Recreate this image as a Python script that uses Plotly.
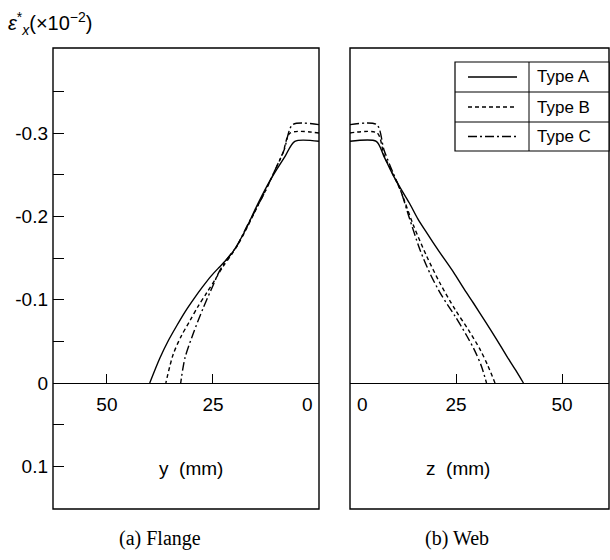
import plotly.graph_objects as go

# ---------------- data ----------------
flange_y_A = [0, 5.7, 8, 10, 12.3, 14.7, 17.1, 19, 20.5, 22, 23.5, 25.5, 27.5, 29.5, 31.5, 33.5, 35.5, 37.5, 39.9]
flange_v_A = [-0.29, -0.29, -0.272, -0.256, -0.236, -0.212, -0.186, -0.168, -0.156, -0.147, -0.139, -0.128, -0.115, -0.101, -0.086, -0.069, -0.051, -0.030, 0.0]
flange_y_B = [0, 6.8, 8.5, 10.5, 12.5, 14.7, 17, 19, 20.5, 22.6, 24.5, 26.5, 28.5, 30.4, 32.5, 34.4, 36.1]
flange_v_B = [-0.30, -0.30, -0.276, -0.254, -0.232, -0.21, -0.186, -0.167, -0.155, -0.140, -0.124, -0.108, -0.092, -0.075, -0.056, -0.034, 0.0]
flange_y_C = [0, 6.2, 8.2, 10.5, 12.5, 14.7, 17, 19.4, 21.8, 23.5, 24.9, 27.3, 29.6, 31.6, 32.6]
flange_v_C = [-0.31, -0.31, -0.28, -0.254, -0.232, -0.21, -0.188, -0.164, -0.148, -0.134, -0.118, -0.090, -0.06, -0.030, 0.0]

web_z_A = [0, 6.2, 8, 10, 12, 14, 16, 18, 21, 24.4, 27, 29.1, 32, 34.6, 37, 39, 40.9]
web_v_A = [-0.29, -0.29, -0.272, -0.251, -0.233, -0.216, -0.197, -0.181, -0.158, -0.133, -0.112, -0.096, -0.073, -0.052, -0.032, -0.016, 0.0]
web_z_B = [0, 6.4, 8, 10, 12, 14.9, 18.1, 21.2, 24.8, 27.9, 30.7, 32.5, 34.2]
web_v_B = [-0.30, -0.30, -0.274, -0.252, -0.23, -0.19, -0.152, -0.12, -0.088, -0.064, -0.04, -0.021, 0.0]
web_z_C = [0, 6.3, 8, 10, 12, 14, 16.5, 19, 21.5, 24.8, 27.5, 29.5, 31, 32.2]
web_v_C = [-0.31, -0.31, -0.28, -0.254, -0.23, -0.198, -0.160, -0.130, -0.106, -0.080, -0.057, -0.038, -0.020, 0.0]

series_names = ["Type A", "Type B", "Type C"]
y_tickvals = [-0.35, -0.3, -0.25, -0.2, -0.15, -0.1, -0.05, 0, 0.05, 0.1]
y_ticktext = ["", "-0.3", "", "-0.2", "", "-0.1", "", "0", "", "0.1"]
x_tickvals = [25, 50]
x_ticktext = ["25", "50"]

# ---------------- layout helpers ----------------
W, H = 610, 560
def px(x):
    return x / W
def py(y):
    return (H - y) / H

dashes = ["solid", "4px,3px", "9px,3px,2px,3px"]
LW = 1.4
FONT = "Liberation Sans, Arial, Helvetica, sans-serif"
SERIF = "Liberation Serif, Times New Roman, serif"

fig = go.Figure()
fl = [(flange_y_A, flange_v_A), (flange_y_B, flange_v_B), (flange_y_C, flange_v_C)]
wb = [(web_z_A, web_v_A), (web_z_B, web_v_B), (web_z_C, web_v_C)]
for i, (xs, vs) in enumerate(fl):
    fig.add_trace(go.Scatter(x=xs, y=vs, mode="lines", name=series_names[i],
                             line=dict(color="black", width=LW, dash=dashes[i],
                                       shape="spline", smoothing=0.8),
                             xaxis="x", yaxis="y", showlegend=False))
for i, (xs, vs) in enumerate(wb):
    fig.add_trace(go.Scatter(x=xs, y=vs, mode="lines", name=series_names[i],
                             line=dict(color="black", width=LW, dash=dashes[i],
                                       shape="spline", smoothing=0.8),
                             xaxis="x2", yaxis="y2", showlegend=False))

L1, R1, L2, R2 = 53, 319, 350, 609
TOP, BOT = 48, 509
Y0 = 383
yrange = [0.1512, -0.402]

xaxis_common = dict(showgrid=False, zeroline=False, showline=True, linecolor="black",
                    linewidth=LW, ticks="inside", ticklen=9, tickwidth=LW, tickcolor="black",
                    tickvals=x_tickvals, ticktext=x_ticktext, anchor="free", position=py(Y0),
                    tickfont=dict(family=FONT, size=19, color="black"), ticklabelstandoff=4)

fig.update_layout(
    width=W, height=H, margin=dict(l=0, r=0, t=0, b=0),
    paper_bgcolor="white", plot_bgcolor="white", showlegend=False,
    xaxis=dict(domain=[px(L1), px(R1)], range=[62.7, 0], **xaxis_common),
    xaxis2=dict(domain=[px(L2), px(R2)], range=[0, (R2 - L2) / 4.24], **xaxis_common),
    yaxis=dict(domain=[py(BOT), py(TOP)], range=yrange, showgrid=False, zeroline=False,
               showline=False, ticks="inside", ticklen=11, tickwidth=LW, tickcolor="black",
               tickvals=y_tickvals, ticktext=y_ticktext, anchor="x",
               tickfont=dict(family=FONT, size=19, color="black"), ticklabelstandoff=4),
    yaxis2=dict(domain=[py(BOT), py(TOP)], range=yrange, visible=False, anchor="x2"),
)

shapes = []
# panel frames
for (l, r) in [(L1, R1), (L2, R2)]:
    shapes.append(dict(type="rect", xref="paper", yref="paper", x0=px(l), x1=px(r),
                       y0=py(BOT), y1=py(TOP), line=dict(color="black", width=LW),
                       fillcolor="rgba(0,0,0,0)", layer="above"))
# legend table
LG_L, LG_R, LG_T, LG_B, LG_DIV = 455, 609, 62, 151, 529
rows = [62, 92, 122, 151]
shapes.append(dict(type="rect", xref="paper", yref="paper", x0=px(LG_L), x1=px(LG_R),
                   y0=py(LG_B), y1=py(LG_T), line=dict(color="black", width=1.2),
                   fillcolor="white", layer="above"))
for ry in rows[1:3]:
    shapes.append(dict(type="line", xref="paper", yref="paper", x0=px(LG_L), x1=px(LG_R),
                       y0=py(ry), y1=py(ry), line=dict(color="black", width=1.0), layer="above"))
shapes.append(dict(type="line", xref="paper", yref="paper", x0=px(LG_DIV), x1=px(LG_DIV),
                   y0=py(LG_B), y1=py(LG_T), line=dict(color="black", width=1.0), layer="above"))
annotations = []
for i in range(3):
    cy = (rows[i] + rows[i + 1]) / 2
    shapes.append(dict(type="line", xref="paper", yref="paper", x0=px(468), x1=px(517),
                       y0=py(cy), y1=py(cy), line=dict(color="black", width=LW, dash=dashes[i]),
                       layer="above"))
    annotations.append(dict(text=series_names[i], xref="paper", yref="paper", x=px(535), y=py(cy),
                            xanchor="left", yanchor="middle", showarrow=False,
                            font=dict(family=FONT, size=17, color="black")))

# zero labels on x axes
annotations.append(dict(text="0", xref="paper", yref="paper", x=px(315), y=py(392),
                        xanchor="right", yanchor="top", showarrow=False,
                        font=dict(family=FONT, size=19, color="black")))
annotations.append(dict(text="0", xref="paper", yref="paper", x=px(355), y=py(392),
                        xanchor="left", yanchor="top", showarrow=False,
                        font=dict(family=FONT, size=19, color="black")))
# axis titles
annotations.append(dict(text="y\u00a0\u00a0(mm)", xref="paper", yref="paper", x=px(191), y=py(468),
                        xanchor="center", yanchor="middle", showarrow=False,
                        font=dict(family=FONT, size=19, color="black")))
annotations.append(dict(text="z\u00a0\u00a0(mm)", xref="paper", yref="paper", x=px(458), y=py(468),
                        xanchor="center", yanchor="middle", showarrow=False,
                        font=dict(family=FONT, size=19, color="black")))
annotations.append(dict(text="<i>ε</i><sup>*</sup><sub><i>x</i></sub>(×10<sup>−2</sup>)",
                        xref="paper", yref="paper", x=px(6), y=py(24),
                        xanchor="left", yanchor="middle", showarrow=False,
                        font=dict(family=FONT, size=20, color="black")))
# panel captions
annotations.append(dict(text="(a) Flange", xref="paper", yref="paper", x=px(160), y=py(538),
                        xanchor="center", yanchor="middle", showarrow=False,
                        font=dict(family=SERIF, size=20, color="black")))
annotations.append(dict(text="(b) Web", xref="paper", yref="paper", x=px(457), y=py(538),
                        xanchor="center", yanchor="middle", showarrow=False,
                        font=dict(family=SERIF, size=20, color="black")))

fig.update_layout(shapes=shapes, annotations=annotations)
fig.write_html("out.html", config={"displayModeBar": False},
               post_script="document.body.style.margin='0';document.body.style.overflow='hidden';")
